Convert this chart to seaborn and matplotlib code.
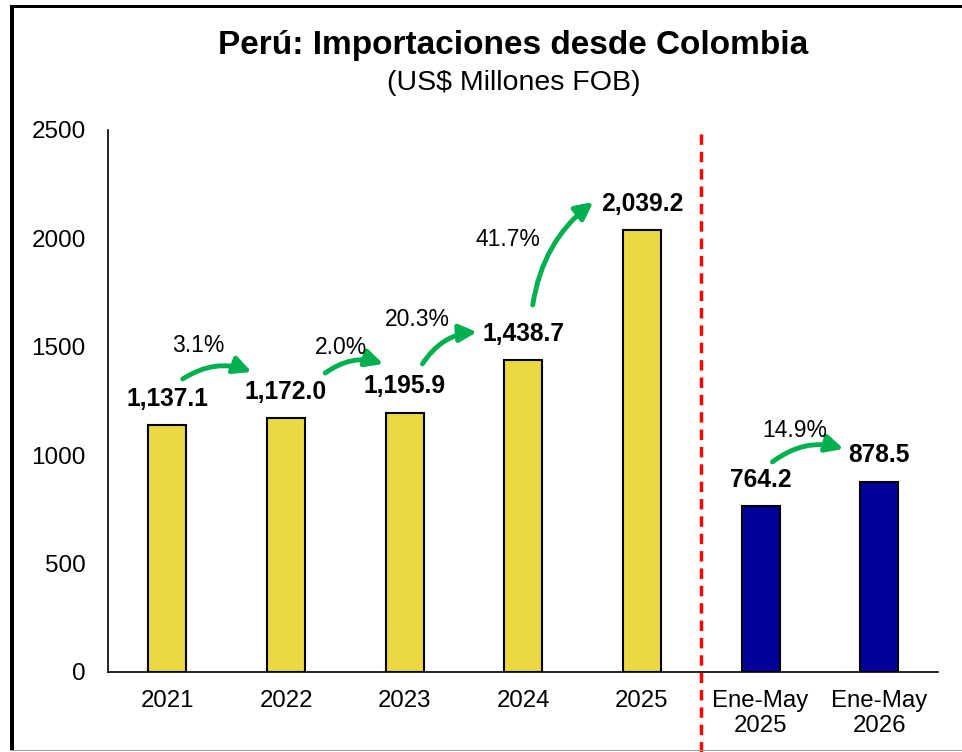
import matplotlib
matplotlib.use("Agg")
import matplotlib.pyplot as plt
from matplotlib.patches import FancyArrowPatch, Rectangle
import seaborn as sns

categories = ["2021", "2022", "2023", "2024", "2025", "Ene-May\n2025", "Ene-May\n2026"]
values = [1137.1, 1172.0, 1195.9, 1438.7, 2039.2, 764.2, 878.5]
bar_colors = ["#EBD944"] * 5 + ["#000099"] * 2
growth_labels = ["3.1%", "2.0%", "20.3%", "41.7%", "14.9%"]
# (x0, y0, x1, y1) of each growth arrow and position of its label
growth_arrows = [
    (0.13, 1352, 0.71, 1384),
    (1.33, 1379, 1.82, 1421),
    (2.15, 1421, 2.61, 1568),
    (3.08, 1693, 3.59, 2168),
    (5.10, 969, 5.70, 1029),
]
growth_text_pos = [(0.26, 1508), (1.46, 1499), (2.11, 1624), (2.87, 1993), (5.29, 1116)]
growth_rad = [-0.25, -0.25, -0.25, -0.2, -0.25]

sns.set_style("white")
plt.rcParams["font.family"] = ["Liberation Sans", "DejaVu Sans"]
plt.rcParams["text.color"] = "black"
plt.rcParams["xtick.color"] = "black"
plt.rcParams["ytick.color"] = "black"

fig = plt.figure(figsize=(9.625, 7.52), dpi=100)
ax = fig.add_axes([108 / 962, 80 / 752, 830 / 962, 542 / 752])

sns.barplot(x=categories, y=values, hue=categories, palette=bar_colors,
            width=0.32, edgecolor="black", linewidth=1.5, legend=False,
            saturation=1, ax=ax)

ax.set_xlim(-0.5, 6.5)
ax.set_ylim(0, 2500)
ax.set_yticks([0, 500, 1000, 1500, 2000, 2500])
ax.tick_params(axis="y", length=0, pad=16, labelsize=17.5, labelcolor="black")
ax.tick_params(axis="x", length=0, pad=13, labelsize=17.3, labelcolor="black")
ax.set_xlabel("")
ax.set_ylabel("")
sns.despine(ax=ax)
for side in ("left", "bottom"):
    ax.spines[side].set_color("black")
    ax.spines[side].set_linewidth(1.2)

# value labels
for i, v in enumerate(values):
    ax.annotate(f"{v:,.1f}", (i, v), xytext=(0, 19), textcoords="offset points",
                ha="center", va="center", fontsize=17.7, fontweight="bold",
                color="black")

# growth arrows
for (x0, y0, x1, y1), lab, (tx, ty), rad in zip(growth_arrows, growth_labels,
                                                 growth_text_pos, growth_rad):
    arr = FancyArrowPatch((x0, y0), (x1, y1), arrowstyle="-|>",
                          connectionstyle=f"arc3,rad={rad}", mutation_scale=26,
                          lw=3.5, color="#00B050", shrinkA=0, shrinkB=0)
    ax.add_patch(arr)
    ax.text(tx, ty, lab, ha="center", va="center", fontsize=16.5, color="black")

# separator between annual and Jan-May
ax.plot([4.5, 4.5], [-370, 2500], color="#FF0000", lw=2.5, ls=(0, (3, 2)),
        clip_on=False)

fig.text(0.533, 0.94, "Perú: Importaciones desde Colombia", ha="center",
         va="center", fontsize=24, fontweight="bold", color="black")
fig.text(0.534, 0.889, "(US$ Millones FOB)", ha="center", va="center",
         fontsize=20.5, color="black")

# chart frame: thick top and left, thin grey bottom
W, H = 962, 752
frame = [
    ((10, H - 8), W - 10, 3, "black"),      # top
    ((10, 2), 3.5, H - 7, "black"),         # left
    ((10, 1), W - 10, 1.5, "#999999"),      # bottom
]
for (x, y), w, h, c in frame:
    fig.add_artist(Rectangle((x / W, y / H), w / W, h / H,
                             transform=fig.transFigure, facecolor=c,
                             edgecolor="none", zorder=10))

fig.savefig("out.png", dpi=100)
